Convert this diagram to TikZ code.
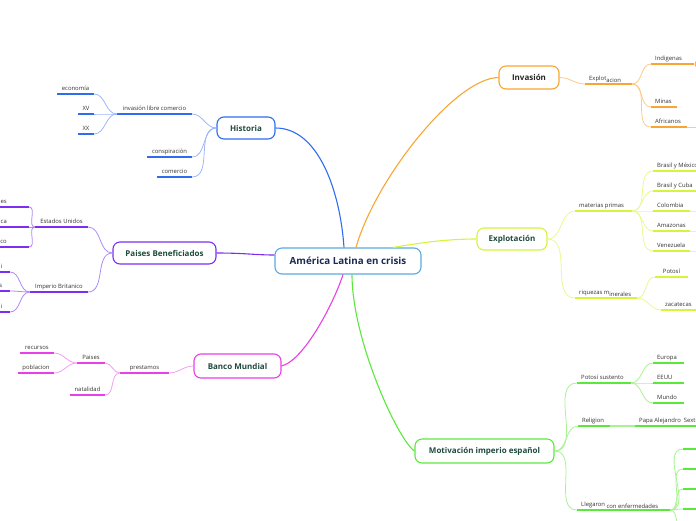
\documentclass[tikz,border=0pt]{standalone}
\usepackage{fontspec}
\setmainfont{Open Sans}
\definecolor{hblue}{HTML}{2E6CF0}
\definecolor{hbluel}{HTML}{9DB8F8}
\definecolor{ppurp}{HTML}{7C2FEF}
\definecolor{ppurpl}{HTML}{B08AF5}
\definecolor{bmag}{HTML}{E83FE8}
\definecolor{bmagl}{HTML}{F2A0F2}
\definecolor{iorange}{HTML}{F9A531}
\definecolor{iorangel}{HTML}{FDCB85}
\definecolor{eyel}{HTML}{D5F53C}
\definecolor{eyell}{HTML}{E6FA8E}
\definecolor{mgreen}{HTML}{5BE83C}
\definecolor{mgreenl}{HTML}{A9F294}
\definecolor{cenline}{HTML}{5DA9DE}
\definecolor{topictext}{HTML}{1E4B3C}
\definecolor{centext}{HTML}{1D2B52}
% leaf with text from the left end of its line
\newcommand{\leafw}[6]{%
  \draw[uline,#2] (#3,#5) coordinate (#1-l) -- (#4,#5) coordinate (#1-r);
  \node[leaftext,anchor=base west] (#1) at ({#3+4},{#5-3.5}) {#6};}
% leaf with text centred over its line
\newcommand{\leafc}[6]{%
  \draw[uline,#2] (#3,#5) coordinate (#1-l) -- (#4,#5) coordinate (#1-r);
  \node[leaftext,anchor=base] (#1) at ({(#3+#4)/2},{#5-3.5}) {#6};}
\begin{document}
\begin{tikzpicture}[x=1pt,y=-1pt,
  topic/.style={draw, fill=white, rounded corners=7pt, line width=1.1pt,
    minimum height=22pt, inner sep=2pt, text=topictext,
    font=\fontsize{8}{9}\selectfont\bfseries},
  central/.style={topic, draw=cenline, minimum width=146pt, minimum height=26pt,
    text=centext, font=\fontsize{9.8}{11}\selectfont\bfseries},
  leaftext/.style={inner sep=0pt, text=black!80, font=\fontsize{5.9}{6.5}\selectfont},
  uline/.style={line width=1.8pt},
  mainline/.style={line width=1.1pt},
  twig/.style={line width=0.8pt}
]
\useasboundingbox (0,0) rectangle (696,520);

% main topics
\node[central] (cen) at (348,261) {América Latina en crisis};
\node[topic, draw=hblue, minimum width=58pt] (hist) at (246,128) {Historia};
\node[topic, draw=ppurp, minimum width=103pt] (pais) at (164.5,253) {Paises Beneficiados};
\node[topic, draw=bmag, minimum width=87pt, minimum height=24pt] (banco) at (237.5,366) {Banco Mundial};
\node[topic, draw=iorange, minimum width=60pt, minimum height=23pt, text=black!85] (inv) at (529,77.5) {Invasión};
\node[topic, draw=eyel, minimum width=70pt] (expl) at (512,239) {Explotación};
\node[topic, draw=mgreen, minimum width=139pt, minimum height=24pt] (motiv) at (484.5,451) {Motivación imperio español};

\draw[mainline,hblue] (hist.east) .. controls (318,128) and (340,190) .. ([xshift=-4pt]cen.north);
\draw[mainline,iorange] (inv.west) .. controls (455,78) and (375,180) .. ([xshift=8pt]cen.north);
\draw[mainline,eyel] (expl.west) .. controls (445,239) and (420,243) .. ([xshift=45pt]cen.north);
\draw[mainline,ppurp] (pais.east) .. controls (245,253) and (255,255) .. ([yshift=6pt]cen.west);
\draw[mainline,bmag] (banco.east) .. controls (305,360) and (335,300) .. ([xshift=-5pt]cen.south);
\draw[mainline,mgreen] (motiv.west) .. controls (398,440) and (352,340) .. ([xshift=4pt]cen.south);

% Historia
\leafc{libre}{hblue}{117}{192}{114}{invasión libre comercio}
\leafc{econ}{hblue}{57}{94}{94}{economía}
\leafc{xv}{hblue}{78}{94}{114}{XV}
\leafc{xx}{hblue}{78}{94}{134}{XX}
\leafc{consp}{hblue}{147}{192}{157}{conspiración}
\leafc{comer}{hblue}{157}{192}{177}{comercio}
\foreach \n in {libre,consp,comer}
  \draw[twig,hbluel] (hist.west) to[out=180,in=0] (\n-r);
\foreach \n in {econ,xv,xx}
  \draw[twig,hbluel] (libre-l) to[out=180,in=0] (\n-r);

% Paises Beneficiados
\leafc{eeuu}{ppurp}{35}{88}{227}{Estados Unidos}
\leafc{imp}{ppurp}{30}{88}{292}{Imperio Britanico}
\foreach \n/\y/\t in {eu1/207/es,eu2/227/ca,eu3/247/co}{
  \draw[uline,ppurp] (-20,\y) -- (29,\y) coordinate (\n-r);
  \node[leaftext,anchor=base east] (\n) at (7,\y-3.5) {\t};
  \draw[twig,ppurpl] (eeuu-l) to[out=180,in=0] (\n-r);
}
\foreach \n/\y/\t in {ib1/272/i,ib2/291/s,ib3/312/i}{
  \draw[uline,ppurp] (-20,\y) -- (10,\y) coordinate (\n-r);
  \node[leaftext,anchor=base east] (\n) at (2.5,\y-3.5) {\t};
  \draw[twig,ppurpl] (imp-l) to[out=180,in=0] (\n-r);
}
\foreach \n in {eeuu,imp}
  \draw[twig,ppurpl] (pais.west) to[out=180,in=0] (\n-r);

% Banco Mundial
\leafc{prest}{bmag}{120}{169}{373}{prestamos}
\leafc{paises}{bmag}{77}{105}{363}{Paises}
\leafc{recur}{bmag}{20}{54}{353}{recursos}
\leafc{pobl}{bmag}{18}{54}{373}{poblacion}
\leafc{natal}{bmag}{70}{105}{395}{natalidad}
\draw[twig,bmagl] (banco.west) to[out=180,in=0] (prest-r);
\foreach \n in {paises,natal}
  \draw[twig,bmagl] (prest-l) to[out=180,in=0] (\n-r);
\foreach \n in {recur,pobl}
  \draw[twig,bmagl] (paises-l) to[out=180,in=0] (\n-r);

% Invasion
\leafw{explo}{iorange}{585}{632}{84}{Explot\raisebox{-1.5pt}{acion}}
\leafw{indig}{iorange}{651}{694}{64}{Indigenas}
\leafw{minas}{iorange}{651}{677}{107}{Minas}
\leafw{afric}{iorange}{651}{687}{127}{Africanos}
\draw[twig,iorangel] (inv.east) to[out=0,in=180] (explo-l);
\foreach \n in {indig,minas,afric}
  \draw[twig,iorangel] (explo-r) to[out=0,in=180] (\n-l);
\draw[twig,iorangel] (afric-r) -- +(12,0);
\node[circle, draw=iorange, fill=white, line width=0.8pt, inner sep=0pt, minimum size=7pt] (indigdot) at (698.5,64) {};

% Explotacion
\leafw{mater}{eyel}{575}{632}{211}{materias primas}
\leafw{riq}{eyel}{575}{637}{298}{riquezas m\raisebox{-1.5pt}{inerales}}
\leafw{bramex}{eyel}{653}{700}{171}{Brasil y México}
\leafw{bracub}{eyel}{653}{700}{191}{Brasil y Cuba}
\leafw{colom}{eyel}{653}{690}{211}{Colombia}
\leafw{amaz}{eyel}{653}{690}{231}{Amazonas}
\leafw{venez}{eyel}{653}{690}{251}{Venezuela}
\leafc{potosi}{eyel}{655}{688}{277}{Potosí}
\leafw{zacat}{eyel}{661}{700}{310}{zacatecas}
\foreach \n in {mater,riq}
  \draw[twig,eyell] (expl.east) to[out=0,in=180] (\n-l);
\foreach \n in {bramex,bracub,colom,amaz,venez}
  \draw[twig,eyell] (mater-r) to[out=0,in=180] (\n-l);
\foreach \n in {colom,amaz,venez}
  \draw[twig,eyell] (\n-r) -- +(12,0);
\foreach \n in {potosi,zacat}
  \draw[twig,eyell] (riq-r) to[out=0,in=180] (\n-l);

% Motivacion imperio espanol
\leafw{sust}{mgreen}{577}{631}{383}{Potosí sustento}
\leafw{europa}{mgreen}{653}{684}{363}{Europa}
\leafw{eeuu2}{mgreen}{653}{684}{383}{EEUU}
\leafw{mundo}{mgreen}{653}{684}{403}{Mundo}
\leafw{relig}{mgreen}{578}{610}{426}{Religion}
\leafw{papa}{mgreen}{635}{700}{426}{Papa Alejandro\ \ Sexto}
\leafw{lleg}{mgreen}{577}{670}{510}{Llegaron \raisebox{-1.5pt}{con enfermedades}}
\foreach \n in {sust,relig,lleg}
  \draw[twig,mgreenl] (motiv.east) to[out=0,in=180] (\n-l);
\foreach \n in {europa,eeuu2,mundo}
  \draw[twig,mgreenl] (sust-r) to[out=0,in=180] (\n-l);
\draw[uline,mgreenl] (relig-r) -- (papa-l);
\foreach \i/\y in {1/449,2/469,3/489,4/509,5/529}{
  \draw[uline,mgreen] (683,\y) coordinate (ll\i-l) -- (700,\y);
  \draw[twig,mgreenl] (lleg-r) to[out=0,in=180] (ll\i-l);
}
\end{tikzpicture}
\end{document}
